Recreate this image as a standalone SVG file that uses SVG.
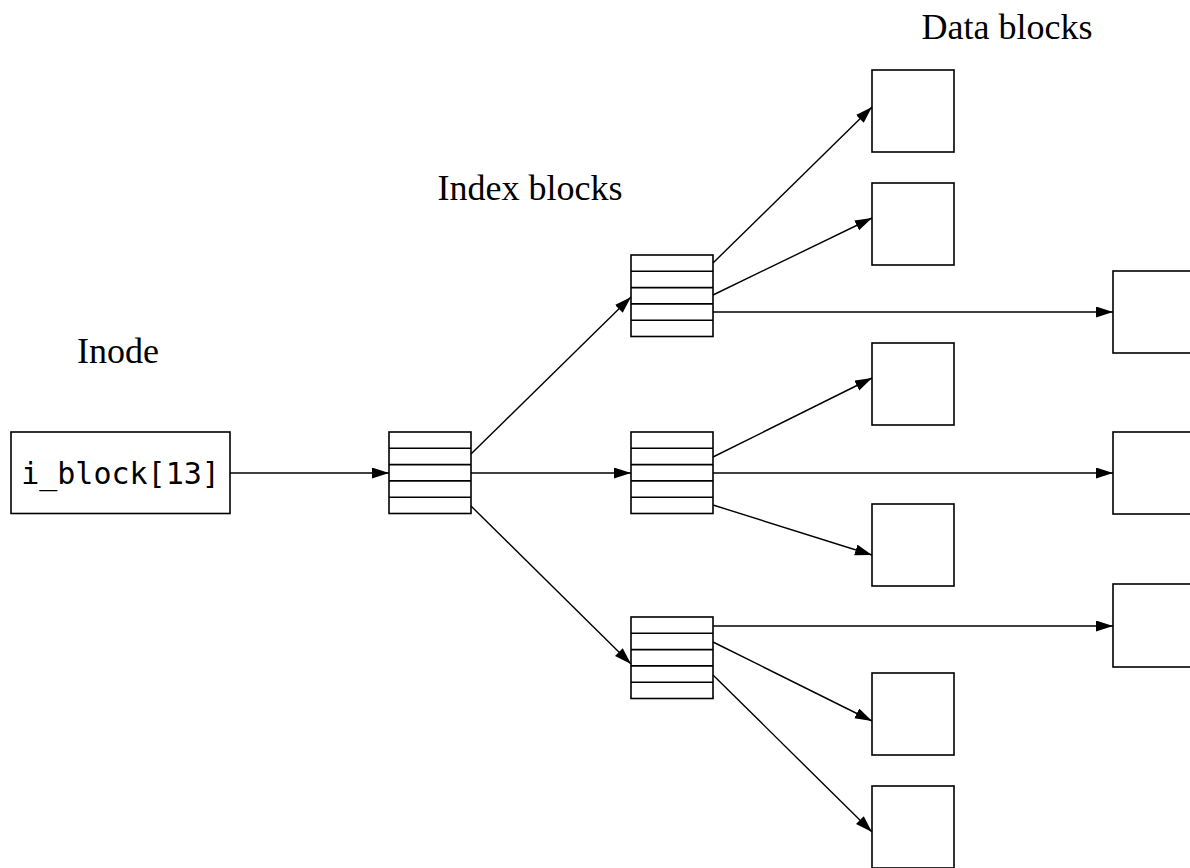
<svg xmlns="http://www.w3.org/2000/svg" width="1190" height="868" viewBox="0 0 1190 868">
<style>
.box{fill:#fff;stroke:#000;stroke-width:1.6}
.row{stroke:#000;stroke-width:1.6}
.edge{stroke:#000;stroke-width:1.4;fill:none;marker-end:url(#ah)}
.lbl{font-family:"Liberation Serif",serif;font-size:36px;fill:#000}
.mono{font-family:"DejaVu Sans Mono",monospace;font-size:30px;fill:#000}
</style>
<defs>
<marker id="ah" markerUnits="userSpaceOnUse" markerWidth="18" markerHeight="12" refX="17" refY="5.5" orient="auto">
<path d="M0,0 L17,5.5 L0,11 z" fill="#000"/>
</marker>
<g id="idx">
<rect class="box" x="0" y="0" width="82" height="81.5"/>
<line class="row" x1="0" y1="16.3" x2="82" y2="16.3"/>
<line class="row" x1="0" y1="32.6" x2="82" y2="32.6"/>
<line class="row" x1="0" y1="48.9" x2="82" y2="48.9"/>
<line class="row" x1="0" y1="65.2" x2="82" y2="65.2"/>
</g>
</defs>
<rect width="1190" height="868" fill="#fff"/>
<g id="labels">
<text class="lbl" x="1007" y="39" text-anchor="middle">Data blocks</text>
<text class="lbl" x="530" y="200" text-anchor="middle">Index blocks</text>
<text class="lbl" x="118" y="363" text-anchor="middle">Inode</text>
</g>
<g id="inode">
<rect class="box" x="11" y="432" width="219" height="81.5"/>
<text class="mono" x="120.5" y="484" text-anchor="middle">i_block[13]</text>
</g>
<g id="index0"><use href="#idx" x="389" y="432"/></g>
<g id="index1"><use href="#idx" x="631" y="255"/></g>
<g id="index2"><use href="#idx" x="631" y="432"/></g>
<g id="index3"><use href="#idx" x="631" y="617"/></g>
<g id="data1"><rect class="box" x="872" y="70" width="82" height="82"/></g>
<g id="data2"><rect class="box" x="872" y="183" width="82" height="82"/></g>
<g id="data3"><rect class="box" x="872" y="343" width="82" height="82"/></g>
<g id="data4"><rect class="box" x="872" y="504" width="82" height="82"/></g>
<g id="data5"><rect class="box" x="872" y="673" width="82" height="82"/></g>
<g id="data6"><rect class="box" x="872" y="786" width="82" height="82"/></g>
<g id="data7"><rect class="box" x="1113" y="271" width="82" height="82"/></g>
<g id="data8"><rect class="box" x="1113" y="432" width="82" height="82"/></g>
<g id="data9"><rect class="box" x="1113" y="584" width="82" height="83"/></g>
<g id="connectors">
<line class="edge" x1="230" y1="473" x2="389" y2="473"/>
<line class="edge" x1="471" y1="454" x2="631" y2="297"/>
<line class="edge" x1="471" y1="473" x2="631" y2="473"/>
<line class="edge" x1="471" y1="506" x2="631" y2="664"/>
<line class="edge" x1="713" y1="263" x2="872" y2="107"/>
<line class="edge" x1="713" y1="295" x2="872" y2="218"/>
<line class="edge" x1="713" y1="312" x2="1113" y2="312"/>
<line class="edge" x1="713" y1="457" x2="872" y2="378"/>
<line class="edge" x1="713" y1="473" x2="1113" y2="473"/>
<line class="edge" x1="713" y1="505" x2="872" y2="555"/>
<line class="edge" x1="713" y1="626" x2="1113" y2="626"/>
<line class="edge" x1="713" y1="642" x2="872" y2="721"/>
<line class="edge" x1="713" y1="675" x2="872" y2="832"/>
</g>
</svg>
